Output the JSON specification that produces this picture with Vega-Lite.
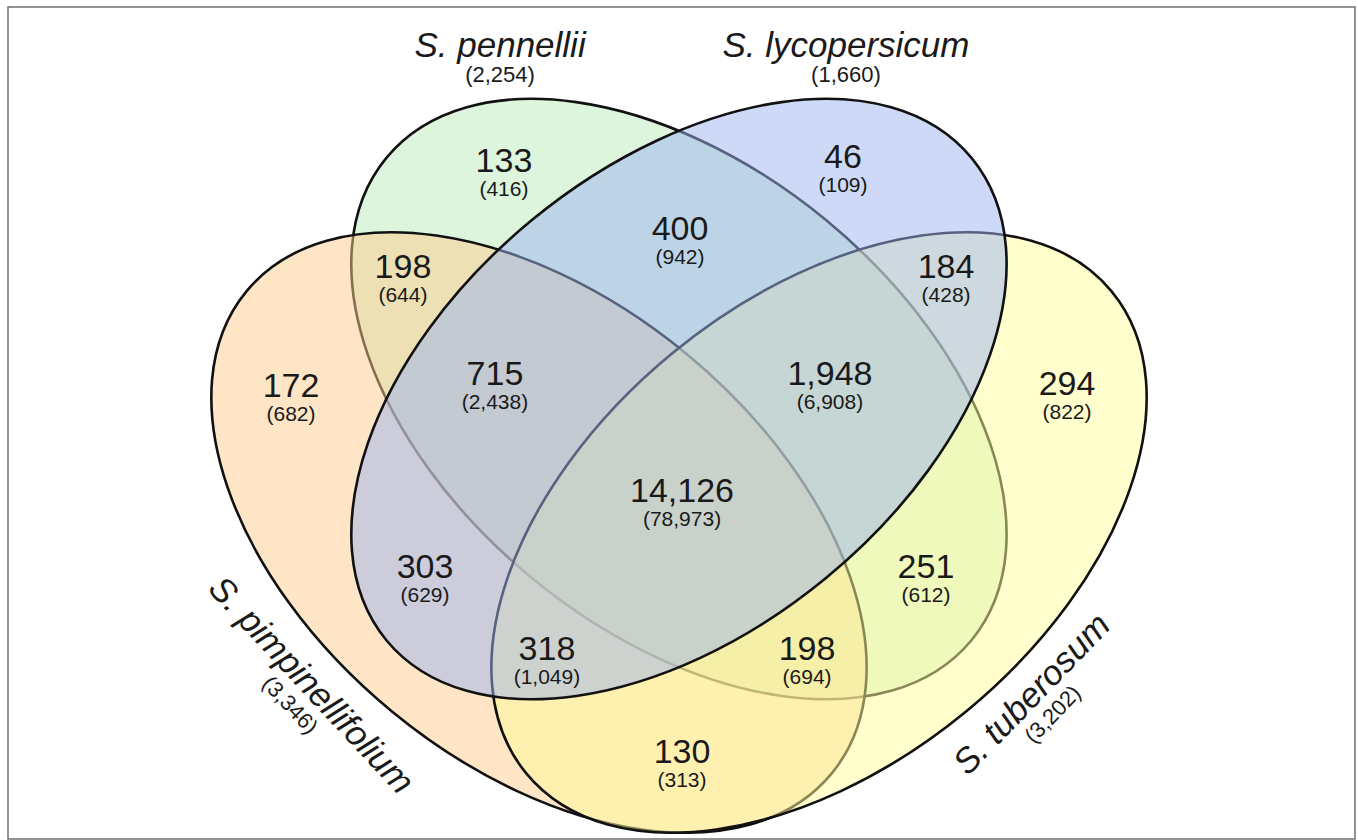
{
  "$schema": "https://vega.github.io/schema/vega-lite/v6.json",
  "width": 1358,
  "height": 840,
  "autosize": {"type": "fit", "contains": "padding"},
  "padding": {"left": 8, "top": 7, "right": 3, "bottom": 1},
  "background": "white",
  "config": {"view": {"stroke": "#707070", "strokeWidth": 1.5}, "text": {"font": "Liberation Sans", "color": "#1a1a1a"}},
  "datasets": {
    "sets": [
      {"set": "S. pennellii", "total": "(2,254)", "cx": 0.4981, "cy": 0.5288, "lx": 0.3653, "ly": 0.9399},
      {"set": "S. pimpinellifolium", "total": "(3,346)", "cx": 0.3942, "cy": 0.3684, "lx": 0.2190, "ly": 0.1755},
      {"set": "S. tuberosum", "total": "(3,202)", "cx": 0.6021, "cy": 0.3684, "lx": 0.7661, "ly": 0.1647},
      {"set": "S. lycopersicum", "total": "(1,660)", "cx": 0.4981, "cy": 0.5288, "lx": 0.6221, "ly": 0.9399}
    ],
    "regions": [
      {"sets": "S. pennellii only", "count": 133, "paren": "(416)", "x": 0.3682, "y": 0.8017},
      {"sets": "S. lycopersicum only", "count": 46, "paren": "(109)", "x": 0.6199, "y": 0.8065},
      {"sets": "S. pennellii & S. lycopersicum", "count": 400, "paren": "(942)", "x": 0.4989, "y": 0.7200},
      {"sets": "S. pimpinellifolium & S. pennellii", "count": 198, "paren": "(644)", "x": 0.2932, "y": 0.6743},
      {"sets": "S. lycopersicum & S. tuberosum", "count": 184, "paren": "(428)", "x": 0.6964, "y": 0.6743},
      {"sets": "S. pimpinellifolium only", "count": 172, "paren": "(682)", "x": 0.2101, "y": 0.5313},
      {"sets": "S. tuberosum only", "count": 294, "paren": "(822)", "x": 0.7862, "y": 0.5337},
      {"sets": "S. pimpinellifolium & S. pennellii & S. lycopersicum", "count": 715, "paren": "(2,438)", "x": 0.3615, "y": 0.5457},
      {"sets": "S. pennellii & S. lycopersicum & S. tuberosum", "count": 1948, "paren": "(6,908)", "x": 0.6102, "y": 0.5457},
      {"sets": "all four", "count": 14126, "paren": "(78,973)", "x": 0.5004, "y": 0.4050},
      {"sets": "S. pimpinellifolium & S. lycopersicum", "count": 303, "paren": "(629)", "x": 0.3096, "y": 0.3137},
      {"sets": "S. pennellii & S. tuberosum", "count": 251, "paren": "(612)", "x": 0.6815, "y": 0.3137},
      {"sets": "S. pimpinellifolium & S. lycopersicum & S. tuberosum", "count": 318, "paren": "(1,049)", "x": 0.4001, "y": 0.2151},
      {"sets": "S. pimpinellifolium & S. pennellii & S. tuberosum", "count": 198, "paren": "(694)", "x": 0.5932, "y": 0.2151},
      {"sets": "S. pimpinellifolium & S. tuberosum", "count": 130, "paren": "(313)", "x": 0.5004, "y": 0.0913}
    ]
  },
  "layer": [
    {
      "data": {"name": "sets"},
      "transform": [{"filter": {"field": "set", "oneOf": ["S. pennellii", "S. pimpinellifolium"]}}],
      "mark": {"type": "point", "shape": "M-1,0A1,0.611 0 1,0 1,0A1,0.611 0 1,0 -1,0Z", "size": 575000, "angle": 39.5, "filled": true, "opacity": 1, "fillOpacity": 0.5, "stroke": "#111111", "strokeWidth": 2.6, "strokeOpacity": 1},
      "encoding": {
        "x": {"field": "cx", "type": "quantitative", "scale": {"domain": [0, 1], "nice": false}, "axis": null},
        "y": {"field": "cy", "type": "quantitative", "scale": {"domain": [0, 1], "nice": false}, "axis": null},
        "color": {"field": "set", "type": "nominal", "scale": {"domain": ["S. pennellii", "S. pimpinellifolium", "S. tuberosum", "S. lycopersicum"], "range": ["#b9ebb9", "#fbcb8b", "#fffd99", "#9bb3ef"]}, "legend": null}
      }
    },
    {
      "data": {"name": "sets"},
      "transform": [{"filter": {"field": "set", "oneOf": ["S. tuberosum", "S. lycopersicum"]}}],
      "mark": {"type": "point", "shape": "M-1,0A1,0.611 0 1,0 1,0A1,0.611 0 1,0 -1,0Z", "size": 575000, "angle": 320.5, "filled": true, "opacity": 1, "fillOpacity": 0.5, "stroke": "#111111", "strokeWidth": 2.6, "strokeOpacity": 1},
      "encoding": {
        "x": {"field": "cx", "type": "quantitative", "scale": {"domain": [0, 1], "nice": false}, "axis": null},
        "y": {"field": "cy", "type": "quantitative", "scale": {"domain": [0, 1], "nice": false}, "axis": null},
        "color": {"field": "set", "type": "nominal", "scale": {"domain": ["S. pennellii", "S. pimpinellifolium", "S. tuberosum", "S. lycopersicum"], "range": ["#b9ebb9", "#fbcb8b", "#fffd99", "#9bb3ef"]}, "legend": null}
      }
    },
    {
      "data": {"name": "regions"},
      "mark": {"type": "text", "fontSize": 34, "align": "center", "baseline": "alphabetic"},
      "encoding": {
        "x": {"field": "x", "type": "quantitative"},
        "y": {"field": "y", "type": "quantitative"},
        "text": {"field": "count", "type": "quantitative", "format": ","}
      }
    },
    {
      "data": {"name": "regions"},
      "mark": {"type": "text", "fontSize": 21, "align": "center", "baseline": "alphabetic", "dy": 24},
      "encoding": {
        "x": {"field": "x", "type": "quantitative"},
        "y": {"field": "y", "type": "quantitative"},
        "text": {"field": "paren", "type": "nominal"}
      }
    },
    {
      "data": {"name": "sets"},
      "transform": [{"filter": {"field": "set", "oneOf": ["S. pennellii", "S. lycopersicum"]}}],
      "mark": {"type": "text", "fontSize": 35, "fontStyle": "italic", "align": "center", "baseline": "alphabetic"},
      "encoding": {
        "x": {"field": "lx", "type": "quantitative"},
        "y": {"field": "ly", "type": "quantitative"},
        "text": {"field": "set", "type": "nominal"}
      }
    },
    {
      "data": {"name": "sets"},
      "transform": [{"filter": {"field": "set", "oneOf": ["S. pennellii", "S. lycopersicum"]}}],
      "mark": {"type": "text", "fontSize": 22, "align": "center", "baseline": "alphabetic", "dy": 25},
      "encoding": {
        "x": {"field": "lx", "type": "quantitative"},
        "y": {"field": "ly", "type": "quantitative"},
        "text": {"field": "total", "type": "nominal"}
      }
    },
    {
      "data": {"name": "sets"},
      "transform": [{"filter": {"field": "set", "equal": "S. pimpinellifolium"}}],
      "mark": {"type": "text", "fontSize": 35, "fontStyle": "italic", "align": "center", "baseline": "alphabetic", "angle": 47},
      "encoding": {
        "x": {"field": "lx", "type": "quantitative"},
        "y": {"field": "ly", "type": "quantitative"},
        "text": {"field": "set", "type": "nominal"}
      }
    },
    {
      "data": {"name": "sets"},
      "transform": [{"filter": {"field": "set", "equal": "S. pimpinellifolium"}}],
      "mark": {"type": "text", "fontSize": 22, "align": "center", "baseline": "alphabetic", "angle": 47, "dy": 25},
      "encoding": {
        "x": {"field": "lx", "type": "quantitative"},
        "y": {"field": "ly", "type": "quantitative"},
        "text": {"field": "total", "type": "nominal"}
      }
    },
    {
      "data": {"name": "sets"},
      "transform": [{"filter": {"field": "set", "equal": "S. tuberosum"}}],
      "mark": {"type": "text", "fontSize": 35, "fontStyle": "italic", "align": "center", "baseline": "alphabetic", "angle": 314},
      "encoding": {
        "x": {"field": "lx", "type": "quantitative"},
        "y": {"field": "ly", "type": "quantitative"},
        "text": {"field": "set", "type": "nominal"}
      }
    },
    {
      "data": {"name": "sets"},
      "transform": [{"filter": {"field": "set", "equal": "S. tuberosum"}}],
      "mark": {"type": "text", "fontSize": 22, "align": "center", "baseline": "alphabetic", "angle": 314, "dy": 25},
      "encoding": {
        "x": {"field": "lx", "type": "quantitative"},
        "y": {"field": "ly", "type": "quantitative"},
        "text": {"field": "total", "type": "nominal"}
      }
    }
  ]
}
